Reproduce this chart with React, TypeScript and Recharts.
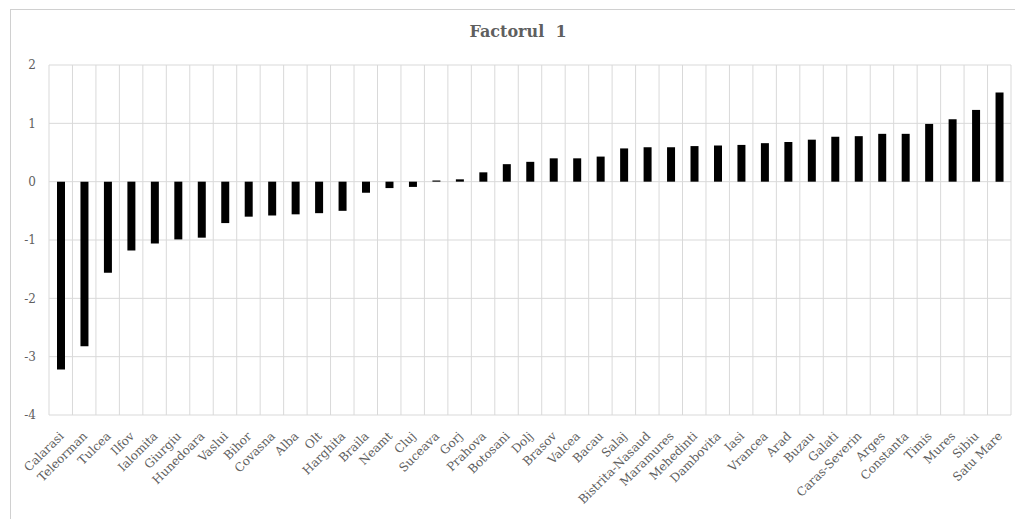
import { BarChart, Bar, XAxis, YAxis, CartesianGrid } from 'recharts';

const counties = [
  'Calarasi', 'Teleorman', 'Tulcea', 'Ilfov', 'Ialomita', 'Giurgiu', 'Hunedoara', 'Vaslui', 'Bihor', 'Covasna',
  'Alba', 'Olt', 'Harghita', 'Braila', 'Neamt', 'Cluj', 'Suceava', 'Gorj', 'Prahova', 'Botosani',
  'Dolj', 'Brasov', 'Valcea', 'Bacau', 'Salaj', 'Bistrita-Nasaud', 'Maramures', 'Mehedinti', 'Dambovita', 'Iasi',
  'Vrancea', 'Arad', 'Buzau', 'Galati', 'Caras-Severin', 'Arges', 'Constanta', 'Timis', 'Mures', 'Sibiu', 'Satu Mare',
];

const factor1 = [
  -3.22, -2.82, -1.56, -1.18, -1.06, -0.99, -0.96, -0.71, -0.6, -0.58,
  -0.56, -0.54, -0.5, -0.19, -0.11, -0.09, 0.02, 0.04, 0.16, 0.3,
  0.34, 0.4, 0.4, 0.43, 0.57, 0.59, 0.59, 0.61, 0.62, 0.63,
  0.66, 0.68, 0.72, 0.77, 0.78, 0.82, 0.82, 0.99, 1.07, 1.23, 1.53,
];

const yTicks = [-4, -3, -2, -1, 0, 1, 2];

const data = counties.map((c, i) => ({ county: c, f1: factor1[i] }));

const FONT = '"DejaVu Serif", serif';
const GREY = '#5f5f5f';

function CountyTick({ x, y, payload }: { x?: number; y?: number; payload?: { value: string } }) {
  return (
    <g transform={`translate(${(x || 0) + 1},${(y || 0) + 11})`}>
      <text
        textAnchor="end"
        transform="rotate(-45)"
        fontFamily={FONT}
        fontSize={12}
        fill={GREY}
        dy={4}
      >
        {payload?.value}
      </text>
    </g>
  );
}

export default function App() {
  return (
    <div style={{ position: 'absolute', left: 0, top: 0, width: 1015, height: 519, background: '#fff', overflow: 'hidden' }}>
      <div style={{
        position: 'absolute', left: 10, top: 9, width: 1020, height: 530,
        border: '1px solid #d0d0d0',
      }} />
      <div style={{
        position: 'absolute', left: 0, top: 22, width: 1036, textAlign: 'center',
        fontFamily: FONT, fontWeight: 700, fontSize: 16, color: GREY,
      }}>
        Factorul&nbsp;&nbsp;1
      </div>
      <div style={{ position: 'absolute', left: 0, top: 0 }}>
        <BarChart
          width={1015}
          height={519}
          data={data}
          margin={{ top: 65, right: 4, left: 0, bottom: 0 }}
          barSize={8}
        >
          <CartesianGrid
            stroke="#d9d9d9"
            verticalCoordinatesGenerator={({ offset }: any) =>
              Array.from({ length: counties.length + 1 }, (_, i) => offset.left + (i * offset.width) / counties.length)
            }
          />
          <XAxis
            dataKey="county"
            interval={0}
            height={104}
            axisLine={false}
            tickLine={false}
            tick={<CountyTick />}
          />
          <YAxis
            width={49}
            domain={[-4, 2]}
            ticks={yTicks}
            axisLine={false}
            tickLine={false}
            tickMargin={7}
            tick={{ fill: GREY, fontSize: 12, fontFamily: FONT }}
          />
          <Bar dataKey="f1" fill="#000" isAnimationActive={false} />
        </BarChart>
      </div>
    </div>
  );
}
